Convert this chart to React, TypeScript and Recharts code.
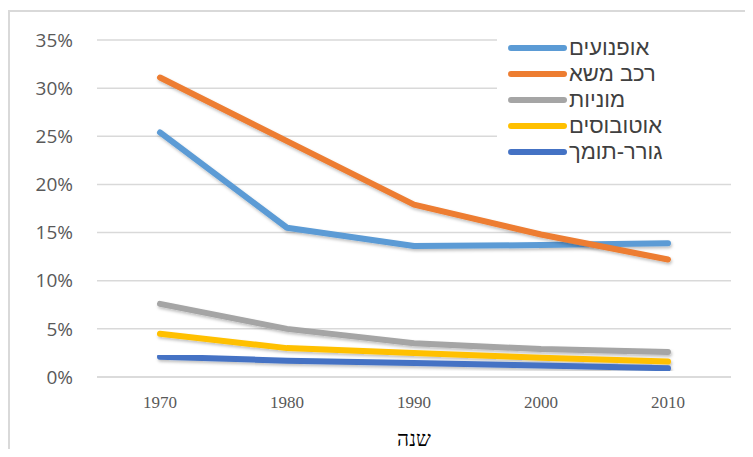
import { LineChart, Line, XAxis, YAxis, CartesianGrid, Label } from "recharts";

const years = ["1970", "1980", "1990", "2000", "2010"];
const motorcycles = [25.4, 15.5, 13.6, 13.7, 13.9];
const trucks = [31.1, 24.5, 17.9, 14.8, 12.2];
const taxis = [7.6, 5.0, 3.5, 2.9, 2.6];
const buses = [4.5, 3.0, 2.5, 2.0, 1.6];
const tractors = [2.1, 1.7, 1.45, 1.2, 0.9];
const yTicks = [0, 5, 10, 15, 20, 25, 30, 35];

const SERIES = [
  { key: "moto", name: "אופנועים", values: motorcycles, color: "#5B9BD5" },
  { key: "truck", name: "רכב משא", values: trucks, color: "#ED7D31" },
  { key: "taxi", name: "מוניות", values: taxis, color: "#A5A5A5" },
  { key: "bus", name: "אוטובוסים", values: buses, color: "#FFC000" },
  { key: "tractor", name: "גורר-תומך", values: tractors, color: "#4472C4" },
];

const data = years.map((year, i) => {
  const row: Record<string, string | number> = { year };
  SERIES.forEach(s => { row[s.key] = s.values[i]; });
  return row;
});

function LegendBox() {
  return (
    <div style={{ position: "absolute", left: 497, top: 30, background: "#fff", width: 234, height: 135, paddingTop: 4.5, boxSizing: "border-box" }}>
      {SERIES.map(s => (
        <div key={s.key} style={{ display: "flex", alignItems: "center", height: 26 }}>
          <svg width={72} height={12} style={{ flex: "none" }}>
            <line x1={14} y1={6} x2={67} y2={6} stroke={s.color} strokeWidth={6} strokeLinecap="round" />
          </svg>
          <span style={{ direction: "rtl", fontFamily: "'Liberation Sans', sans-serif", fontSize: 22, color: "#404040", lineHeight: "26px", whiteSpace: "nowrap" }}>
            {s.name}
          </span>
        </div>
      ))}
    </div>
  );
}

export default function App() {
  return (
    <div style={{ position: "relative", margin: -8, width: 753, height: 457, overflow: "hidden", background: "#fff" }}>
      <div style={{ position: "absolute", left: 8, top: 10, width: 800, height: 500, borderTop: "2px solid #d9d9d9", borderLeft: "2px solid #d9d9d9" }} />
      <div style={{ position: "absolute", left: 0, top: 0 }}>
        <LineChart width={753} height={457} data={data} margin={{ top: 40, right: 22, left: 0, bottom: 10 }}>
          <defs>
            <filter id="lineShadow" x="-10%" y="-10%" width="120%" height="130%">
              <feDropShadow dx="1" dy="2" stdDeviation="1.5" floodColor="#000" floodOpacity="0.25" />
            </filter>
          </defs>
          <CartesianGrid vertical={false} stroke="#d9d9d9" strokeWidth={1.5} />
          <XAxis dataKey="year" height={70} padding={{ left: 63, right: 63 }} tickLine={false} tickMargin={13}
            axisLine={{ stroke: "#d9d9d9", strokeWidth: 1.5 }}
            tick={{ fill: "#595959", fontSize: 17, fontFamily: "'Liberation Serif', serif" }}>
            <Label value="שנה" position="insideBottom" offset={1} fill="#000" fontSize={21} fontFamily="'Liberation Serif', serif" />
          </XAxis>
          <YAxis width={97} domain={[0, 35]} ticks={yTicks} tickLine={false} axisLine={false} tickMargin={18}
            tickFormatter={v => `${v}%`} tick={{ fill: "#595959", fontSize: 19, fontFamily: "'Open Sans', sans-serif" }} />
          {SERIES.map(s => (
            <Line key={s.key} dataKey={s.key} name={s.name} stroke={s.color} strokeWidth={6} strokeLinecap="round" strokeLinejoin="round"
              filter="url(#lineShadow)" dot={false} activeDot={false} isAnimationActive={false} />
          ))}
        </LineChart>
      </div>
      <LegendBox />
    </div>
  );
}
